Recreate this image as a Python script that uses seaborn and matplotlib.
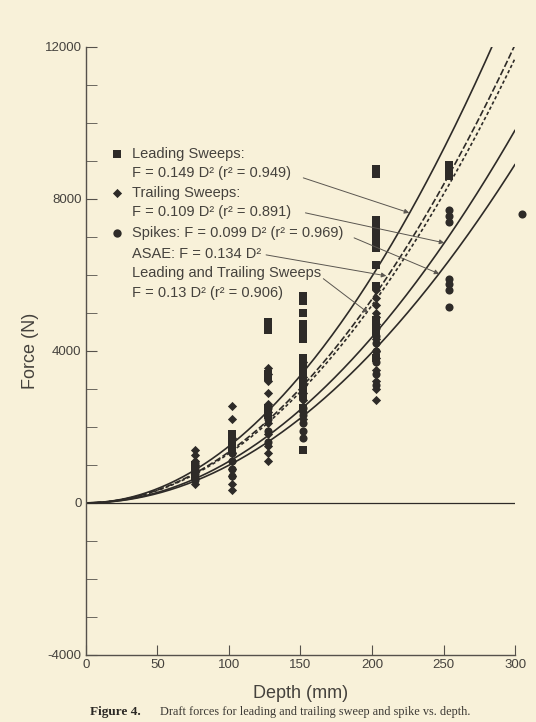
import numpy as np
import pandas as pd
import matplotlib.pyplot as plt
import seaborn as sns
from matplotlib.ticker import MultipleLocator

lead_depth = [76, 76, 76,
              102, 102, 102, 102,
              127, 127, 127, 127, 127, 127, 127,
              152, 152, 152, 152, 152, 152, 152, 152, 152, 152, 152, 152, 152, 152, 152, 152, 152,
              203, 203, 203, 203, 203, 203, 203, 203, 203, 203, 203, 203, 203, 203,
              254, 254, 254]
lead_force = [700, 850, 1000,
              1400, 1550, 1700, 1800,
              4550, 4650, 4750, 3400, 3300, 2300, 2500,
              5450, 5300, 5000, 4700, 4600, 4500, 4400, 4300, 3800, 3600, 3500, 3400, 3200, 3000, 2800, 2500, 1400,
              8800, 8650, 7450, 7300, 7150, 7000, 6850, 6700, 6250, 5700, 4800, 4650, 4500, 3800,
              8900, 8750, 8600]

trail_depth = [76, 76, 76, 76, 76, 76, 76,
               102, 102, 102, 102, 102, 102, 102, 102, 102,
               127, 127, 127, 127, 127, 127, 127, 127, 127, 127, 127,
               152, 152, 152, 152, 152, 152, 152,
               203, 203, 203, 203, 203, 203, 203, 203, 203, 203, 203, 203, 203]
trail_force = [500, 650, 800, 1000, 1100, 1250, 1400,
               2550, 2200, 1700, 1300, 1100, 900, 700, 500, 350,
               3550, 3400, 3200, 2900, 2600, 2400, 2100, 1800, 1500, 1300, 1100,
               3700, 3300, 3100, 2900, 2700, 2400, 2200,
               5600, 5400, 5200, 5000, 4900, 4700, 4300, 4000, 3800, 3500, 3200, 3000, 2700]

spike_depth = [76, 76, 76, 76,
               102, 102, 102, 102,
               127, 127, 127, 127,
               152, 152, 152, 152, 152,
               203, 203, 203, 203, 203, 203, 203,
               254, 254, 254, 254, 254, 254, 254,
               305]
spike_force = [600, 750, 900, 1050,
               700, 900, 1100, 1300,
               1600, 1900, 2200, 2500,
               1700, 1900, 2100, 2300, 2500,
               3100, 3400, 3700, 4000, 4200, 4400, 4600,
               7700, 7550, 7400, 5900, 5750, 5600, 5150,
               7600]

# Regressionskoeffizienten F = k * D^2
fit_names = ['Leading', 'ASAE', 'Leading+Trailing', 'Trailing', 'Spikes']
fit_k = [0.149, 0.134, 0.13, 0.109, 0.099]

paper = '#f8f1d9'
ink = '#2e2b28'
txt = '#45423d'

sns.set_style('ticks')
plt.rcParams['font.family'] = ['Liberation Sans', 'DejaVu Sans']
plt.rcParams['axes.unicode_minus'] = False

fig = plt.figure(figsize=(5.36, 7.22), dpi=100, facecolor=paper)
ax = fig.add_axes([0.160, 0.093, 0.801, 0.842])
ax.set_facecolor(paper)

# --- Kurven ---
d = np.linspace(0, 300, 301)
curves = pd.DataFrame({
    'D': np.tile(d, len(fit_k)),
    'F': np.concatenate([k * d ** 2 for k in fit_k]),
    'fit': np.repeat(fit_names, len(d)),
})
styles = {'Leading': '', 'Trailing': '', 'Spikes': '',
          'ASAE': (4, 1.5), 'Leading+Trailing': (2, 1.5)}
sns.lineplot(data=curves, x='D', y='F', hue='fit', style='fit', dashes=styles,
             palette={n: ink for n in fit_names}, linewidth=1.2,
             legend=False, ax=ax)

# --- Punkte ---
lead = pd.DataFrame({'D': lead_depth, 'F': lead_force})
trail = pd.DataFrame({'D': trail_depth, 'F': trail_force})
spike = pd.DataFrame({'D': spike_depth, 'F': spike_force})
sns.scatterplot(data=lead, x='D', y='F', marker='s', s=32, color=ink, linewidth=0, ax=ax, zorder=3)
sns.scatterplot(data=trail, x='D', y='F', marker='D', s=22, color=ink, linewidth=0, ax=ax, zorder=3)
sns.scatterplot(data=spike, x='D', y='F', marker='o', s=34, color=ink, linewidth=0, ax=ax,
                zorder=3, clip_on=False)

ax.axhline(0, color=ink, lw=0.9, zorder=1)

# --- Achsen ---
ax.set_xlim(0, 300)
ax.set_ylim(-4000, 12000)
ax.xaxis.set_major_locator(MultipleLocator(50))
ax.yaxis.set_major_locator(MultipleLocator(4000))
ax.yaxis.set_minor_locator(MultipleLocator(1000))
ax.tick_params(which='both', direction='in', colors='#55514b', labelcolor=txt, labelsize=9.5)
ax.tick_params(axis='y', which='both', length=8, pad=3)
ax.tick_params(axis='x', length=7, pad=3)
for s in ['top', 'right']:
    ax.spines[s].set_visible(False)
for s in ['left', 'bottom']:
    ax.spines[s].set_color('#55514b')
    ax.spines[s].set_linewidth(1.0)
ax.set_xlabel('Depth (mm)', fontsize=13, color=txt, labelpad=10)
ax.set_ylabel('Force (N)', fontsize=13, color=txt, labelpad=4)

# --- Legende als Text ---
ax.scatter([21.6], [9186], marker='s', s=34, color=ink, linewidths=0)
ax.scatter([21.6], [8160], marker='D', s=22, color=ink, linewidths=0)
ax.scatter([21.6], [7107], marker='o', s=36, color=ink, linewidths=0)
lines = ['Leading Sweeps:',
         'F = 0.149 D² (r² = 0.949)',
         'Trailing Sweeps:',
         'F = 0.109 D² (r² = 0.891)',
         'Spikes: F = 0.099 D² (r² = 0.969)',
         'ASAE: F = 0.134 D²',
         'Leading and Trailing Sweeps',
         'F = 0.13 D² (r² = 0.906)']
ys = [9186, 8686, 8160, 7660, 7107, 6554, 6054, 5527]
for t, y in zip(lines, ys):
    ax.text(32.0, y, t, fontsize=10.5, color=txt, va='center', ha='left')

arrows = [((152.0, 8554), (226, 7633)),
          ((153.5, 7633), (250.5, 6843)),
          ((187.5, 6975), (247, 6027)),
          ((126.0, 6527), (210, 5975)),
          ((166.0, 5900), (197.4, 5000))]
for start, end in arrows:
    ax.annotate('', xy=end, xytext=start,
                arrowprops=dict(arrowstyle='-|>', lw=0.7, color='#5a5650',
                                mutation_scale=7, shrinkA=0, shrinkB=0))

# --- Bildunterschrift ---
fig.text(90 / 536, 1 - 712 / 722, 'Figure 4.', fontsize=9.5, fontweight='bold',
         family='Liberation Serif', color='#2b2824', va='center')
fig.text(160 / 536, 1 - 712 / 722, 'Draft forces for leading and trailing sweep and spike vs. depth.',
         fontsize=8.8, family='Liberation Serif', color='#3b3833', va='center')

fig.savefig('out.png', dpi=100, facecolor=paper)
